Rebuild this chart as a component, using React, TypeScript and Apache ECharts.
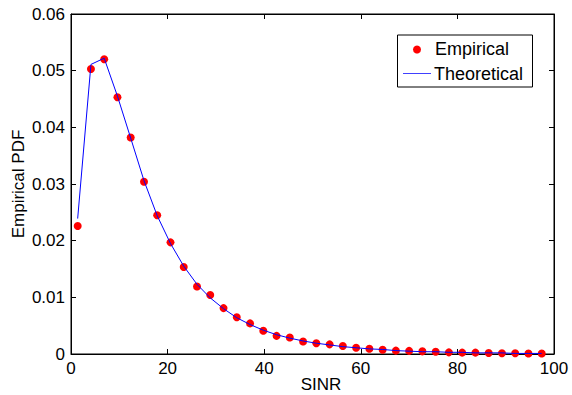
import React, { useEffect, useRef } from "react";
import * as echarts from "echarts";

const sinr = [
  1.38, 4.13, 6.87, 9.62, 12.36, 15.11, 17.85, 20.6, 23.34, 26.09, 28.83, 31.58,
  34.32, 37.07, 39.81, 42.56, 45.3, 48.05, 50.79, 53.54, 56.28, 59.03, 61.77,
  64.52, 67.26, 70.01, 72.75, 75.5, 78.24, 80.99, 83.73, 86.48, 89.22, 91.97,
  94.71, 97.46,
];

const empirical = [
  0.0226, 0.0503, 0.052, 0.0453, 0.0382, 0.0304, 0.0245, 0.0197, 0.01535,
  0.0119, 0.0104, 0.0081, 0.0065, 0.0054, 0.0041, 0.0032, 0.0029, 0.0022,
  0.0019, 0.0017, 0.0014, 0.0011, 0.00094, 0.00076, 0.00059, 0.00055, 0.00047,
  0.00041, 0.00029, 0.00024, 0.00024, 0.00018, 0.00012, 0.00012, 0.0001,
  0.0001,
];

const theoretical = [
  0.0239, 0.0511, 0.0522, 0.0455, 0.0381, 0.0306, 0.0244, 0.0195, 0.0155,
  0.0123, 0.0099, 0.008, 0.0064, 0.0052, 0.0042, 0.0034, 0.0028, 0.0023,
  0.0019, 0.0016, 0.0013, 0.0011, 0.0009, 0.0008, 0.0006, 0.0005, 0.0004,
  0.0004, 0.0003, 0.0003, 0.0002, 0.0002, 0.0002, 0.0001, 0.0001, 0.0001,
];

const xTicks = { min: 0, max: 100, interval: 20 };
const yTicks = { min: 0, max: 0.06, interval: 0.01 };

const FONT = "'Liberation Sans', Arial, Helvetica, sans-serif";

export default function App() {
  const ref = useRef<HTMLDivElement>(null);

  useEffect(() => {
    if (!ref.current) return;
    const chart = echarts.init(ref.current, undefined, { renderer: "svg" });
    const empData = sinr.map((x, i) => [x, empirical[i]]);
    const theoData = sinr.map((x, i) => [x, theoretical[i]]);

    const tickStyle = { show: true, inside: true, length: 5, lineStyle: { color: "#000", width: 1 } };

    chart.setOption({
      animation: false,
      backgroundColor: "#fff",
      grid: {
        left: 71,
        right: 18,
        top: 14,
        bottom: 41,
        containLabel: false,
        outerBoundsMode: "none",
        show: true,
        borderColor: "#000",
        borderWidth: 1,
        backgroundColor: "#fff",
      },
      xAxis: [
        {
          type: "value",
          ...xTicks,
          position: "bottom",
          name: "SINR",
          nameLocation: "middle",
          nameGap: 22,
          nameMoveOverlap: false,
          nameTextStyle: { fontFamily: FONT, fontSize: 17, color: "#000", padding: [0, 0, 0, 17] },
          axisLine: { show: true, onZero: false, lineStyle: { color: "#000", width: 1 } },
          axisTick: tickStyle,
          axisLabel: { fontFamily: FONT, fontSize: 17, color: "#000", margin: 6 },
          splitLine: { show: false },
        },
        {
          type: "value",
          ...xTicks,
          position: "top",
          axisLine: { show: true, onZero: false, lineStyle: { color: "#000", width: 1 } },
          axisTick: tickStyle,
          axisLabel: { show: false },
          splitLine: { show: false },
        },
      ],
      yAxis: [
        {
          type: "value",
          ...yTicks,
          position: "left",
          name: "Empirical PDF",
          nameLocation: "middle",
          nameGap: 44,
          nameMoveOverlap: false,
          nameTextStyle: { fontFamily: FONT, fontSize: 17, color: "#000" },
          axisLine: { show: true, onZero: false, lineStyle: { color: "#000", width: 1 } },
          axisTick: tickStyle,
          axisLabel: {
            fontFamily: FONT,
            fontSize: 17,
            color: "#000",
            margin: 6,
            formatter: (v: number) => (v === 0 ? "0" : v.toFixed(2)),
          },
          splitLine: { show: false },
        },
        {
          type: "value",
          ...yTicks,
          position: "right",
          axisLine: { show: true, onZero: false, lineStyle: { color: "#000", width: 1 } },
          axisTick: tickStyle,
          axisLabel: { show: false },
          splitLine: { show: false },
        },
      ],
      series: [
        {
          name: "Empirical",
          type: "scatter",
          data: empData,
          symbol: "circle",
          symbolSize: 8,
          itemStyle: { color: "#ff0000", opacity: 1 },
          z: 2,
        },
        {
          name: "Theoretical",
          type: "line",
          data: theoData,
          showSymbol: false,
          symbol: "none",
          lineStyle: { color: "#0000ff", width: 1 },
          z: 3,
        },
      ],
      graphic: [
        {
          type: "rect",
          shape: { x: 397.5, y: 35, width: 135, height: 52 },
          style: { fill: "#fff", stroke: "#000", lineWidth: 1 },
          z: 10,
        },
        {
          type: "circle",
          shape: { cx: 417, cy: 49.5, r: 4 },
          style: { fill: "#ff0000" },
          z: 11,
        },
        {
          type: "text",
          x: 435,
          y: 49,
          style: { text: "Empirical", fill: "#000", font: `18px ${FONT}`, verticalAlign: "middle", align: "left" },
          z: 11,
        },
        {
          type: "line",
          shape: { x1: 403, y1: 73.5, x2: 431, y2: 73.5 },
          style: { stroke: "#4040ff", lineWidth: 1 },
          z: 11,
        },
        {
          type: "text",
          x: 434,
          y: 74,
          style: { text: "Theoretical", fill: "#000", font: `18px ${FONT}`, verticalAlign: "middle", align: "left" },
          z: 11,
        },
      ],
    });
    return () => chart.dispose();
  }, []);

  return (
    <div
      ref={ref}
      style={{ position: "fixed", left: 0, top: 0, width: 572, height: 395, background: "#fff" }}
    />
  );
}
